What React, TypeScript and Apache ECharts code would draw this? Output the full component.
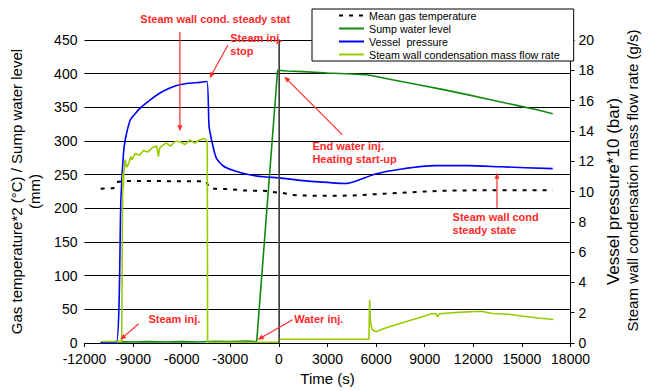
import React, { useEffect, useRef } from 'react';
import * as echarts from 'echarts';

const FONT = '"Liberation Sans", Arial, sans-serif';
const RED = '#ff2a2a';

// Mean gas temperature (*2, °C) — left axis
const gasTemp: [number, number][] = [
  [-11000, 229], [-10600, 229.5], [-10200, 230], [-10000, 239], [-9500, 240.5], [-8000, 240.5],
  [-6000, 240.3], [-4500, 240], [-4300, 231], [-4000, 229], [-3000, 228.5], [-2200, 226.5],
  [-900, 226], [-500, 224.5], [200, 223], [800, 220], [1450, 219], [3000, 218.5], [4500, 219],
  [5550, 220.5], [7600, 223], [9000, 225], [10650, 226.5], [13700, 227], [16900, 227],
];

// Sump water level (mm) — left axis
const sumpLevel: [number, number][] = [
  [-11000, 1], [-10000, 2], [-9000, 1.5], [-8000, 2], [-7000, 1.5], [-6000, 2], [-5000, 1.5],
  [-4000, 2.5], [-3000, 2], [-2000, 3], [-1370, 2], [-80, 405], [500, 404], [1450, 403],
  [3000, 401], [4500, 399.5], [5550, 398], [7000, 391], [8600, 383.5], [10000, 377],
  [11700, 368.5], [13000, 361.5], [14750, 352.5], [16000, 346], [16900, 340.5],
];

// Vessel pressure (*10, bar) — right axis
const vesselPressure: [number, number][] = [
  [-11000, 0], [-10040, 0], [-9750, 9.5], [-9600, 12.4], [-9485, 13.4], [-9180, 14.7],
  [-8900, 15.1], [-8560, 15.5], [-8000, 16.0], [-7340, 16.5], [-6800, 16.8], [-6310, 17.0],
  [-5600, 17.15], [-4880, 17.2], [-4440, 17.26], [-4310, 14.3], [-4070, 13.0], [-3860, 12.2],
  [-3450, 11.7], [-2840, 11.4], [-1820, 11.1], [-790, 10.96], [25, 10.9], [1450, 10.72],
  [3000, 10.6], [4120, 10.53], [4730, 10.68], [5960, 11.16], [7590, 11.49], [9640, 11.71],
  [11680, 11.71], [13720, 11.63], [16900, 11.51],
];

// Steam wall condensation mass flow rate (g/s) — right axis
const steamCond: [number, number][] = [
  [-10900, 0.1], [-9700, 0.1], [-9660, 8], [-9630, 11.2], [-9600, 10.2], [-9560, 11.4],
  [-9490, 12.1], [-9400, 11.6], [-9280, 11.8], [-9150, 12.3], [-9070, 12.1], [-8870, 12.5],
  [-8600, 12.4], [-8360, 12.7], [-8100, 12.6], [-7800, 12.9], [-7540, 13.0], [-7440, 12.3],
  [-7350, 12.9], [-7100, 13.1], [-6930, 13.2], [-6700, 13.0], [-6400, 13.3], [-6110, 13.3],
  [-5800, 13.1], [-5500, 13.4], [-5200, 13.2], [-4900, 13.4], [-4600, 13.5], [-4420, 13.3],
  [-4400, 0.2], [-4380, 0.05], [0, 0.05], [10, 0.25], [5560, 0.25], [5600, 2.85], [5650, 1.4],
  [5750, 0.9], [5990, 0.74], [6500, 0.95], [7010, 1.14], [8030, 1.47], [9060, 1.8],
  [9400, 1.93], [9700, 1.95], [9780, 1.72], [9900, 1.92], [10500, 1.98], [11100, 2.02],
  [12130, 2.08], [12500, 2.1], [13160, 1.95], [14180, 1.9], [15210, 1.75], [16000, 1.65],
  [16950, 1.55],
];

const seriesNames = [
  'Mean gas temperature',
  'Sump water level',
  'Vessel  pressure',
  'Steam wall condensation mass flow rate',
];

// Annotations in data units (time, left-axis value)
const notes: { text: string; at: [number, number]; align: string }[] = [
  { text: 'Steam wall cond. steady stat', at: [-3930, 481], align: 'center' },
  { text: 'Steam inj.\nstop', at: [-3000, 442.6], align: 'left' },
  { text: 'End water inj.\nHeating start-up', at: [2070, 283], align: 'left' },
  { text: 'Steam wall cond\nsteady state', at: [10720, 177], align: 'left' },
  { text: 'Steam inj.', at: [-8055, 35.5], align: 'left' },
  { text: 'Water inj.', at: [945, 35.5], align: 'left' },
];
const arrows: [number, number][][] = [
  [[-6110, 462], [-6110, 314.3]],
  [[-3147, 442.6], [-4270, 393.3]],
  [[3908, 309.4], [331, 395.7]],
  [[13460, 200.9], [13460, 252.7]],
  [[-8669, 28.1], [-9791, 4.9]],
  [[840, 34.5], [-1307, 4.9]],
];

export default function App() {
  const ref = useRef<HTMLDivElement>(null);
  useEffect(() => {
    document.body.style.margin = '0';
    const chart = echarts.init(ref.current!, null, { renderer: 'svg' });
    const axisLabel = { color: '#000', fontSize: 14, fontFamily: FONT };
    const option: any = {
      animation: false,
      backgroundColor: '#fff',
      grid: { left: 84, right: 75, top: 40, bottom: 47, containLabel: false },
      legend: {
        orient: 'vertical',
        left: 312,
        top: 9,
        padding: [1, 14, 1, 26],
        itemGap: 2,
        itemWidth: 25,
        itemHeight: 12,
        borderColor: '#000',
        borderWidth: 1,
        backgroundColor: '#fff',
        itemStyle: { opacity: 0 },
        textStyle: { color: '#000', fontSize: 10.7, fontFamily: FONT },
        data: seriesNames,
      },
      xAxis: {
        type: 'value',
        min: -12000,
        max: 18000,
        interval: 3000,
        name: 'Time (s)',
        nameLocation: 'middle',
        nameGap: 28,
        nameTextStyle: { color: '#000', fontSize: 15, fontFamily: FONT },
        axisLine: { onZero: false, lineStyle: { color: '#000', width: 1 } },
        axisTick: { length: 4, lineStyle: { color: '#000' } },
        axisLabel: { ...axisLabel, margin: 9, formatter: (v: number) => String(v) },
        splitLine: { show: false },
      },
      yAxis: [
        {
          type: 'value',
          min: 0,
          max: 450,
          interval: 50,
          name: 'Gas temperature*2 (°C) / Sump water level\n(mm)',
          nameLocation: 'middle',
          nameRotate: 90,
          nameGap: 33,
          nameTextStyle: { color: '#000', fontSize: 15, fontFamily: FONT, lineHeight: 17.6 },
          axisLine: { show: true, lineStyle: { color: '#000', width: 1 } },
          axisTick: { show: true, length: 4, lineStyle: { color: '#000' } },
          axisLabel: { ...axisLabel, margin: 7 },
          splitLine: { show: true, lineStyle: { color: '#000', width: 1 } },
        },
        {
          type: 'value',
          min: 0,
          max: 20,
          interval: 2,
          position: 'right',
          name: '{a|Vessel pressure*10 (bar)}\n{b|Steam wall condensation mass flow rate (g/s)}',
          nameLocation: 'middle',
          nameRotate: 90,
          nameGap: 31,
          nameTextStyle: {
            color: '#000',
            fontFamily: FONT,
            rich: {
              a: { fontSize: 17, lineHeight: 19, fontFamily: FONT, color: '#000' },
              b: { fontSize: 15, lineHeight: 19, fontFamily: FONT, color: '#000', padding: [0, 0, 0, 22] },
            },
          },
          axisLine: { show: true, lineStyle: { color: '#000', width: 1 } },
          axisTick: { show: true, length: 4, lineStyle: { color: '#000' } },
          axisLabel: { ...axisLabel, margin: 8 },
          splitLine: { show: false },
        },
      ],
      series: [
        {
          name: seriesNames[0],
          type: 'line',
          yAxisIndex: 0,
          data: gasTemp,
          symbol: 'none',
          lineStyle: { color: '#000', width: 2, type: [4, 6] },
          itemStyle: { color: '#000' },
          markLine: {
            silent: true,
            symbol: ['none', 'none'],
            label: { show: false },
            lineStyle: { color: '#555', width: 1.5, type: 'solid' },
            data: [{ xAxis: 0 }],
          },
        },
        {
          name: seriesNames[1],
          type: 'line',
          yAxisIndex: 0,
          data: sumpLevel,
          symbol: 'none',
          lineStyle: { color: '#118811', width: 1.6 },
          itemStyle: { color: '#118811' },
        },
        {
          name: seriesNames[2],
          type: 'line',
          yAxisIndex: 1,
          data: vesselPressure,
          symbol: 'none',
          smooth: 0.2,
          lineStyle: { color: '#0000ff', width: 1.6 },
          itemStyle: { color: '#0000ff' },
        },
        {
          name: seriesNames[3],
          type: 'line',
          yAxisIndex: 1,
          data: steamCond,
          symbol: 'none',
          lineStyle: { color: '#99cc00', width: 1.6 },
          itemStyle: { color: '#99cc00' },
        },
      ],
    };
    chart.setOption(option);

    const px = (p: [number, number]) =>
      chart.convertToPixel({ xAxisIndex: 0, yAxisIndex: 0 } as any, p) as number[];
    const elements: any[] = [];
    notes.forEach((n) => {
      const [x, y] = px(n.at);
      elements.push({
        type: 'text',
        x,
        y,
        z: 100,
        silent: true,
        style: {
          text: n.text,
          fill: RED,
          fontSize: 11,
          fontWeight: 'bold',
          fontFamily: FONT,
          align: n.align,
          verticalAlign: 'middle',
          lineHeight: 13,
        },
      });
    });
    arrows.forEach(([a, b]) => {
      const [x1, y1] = px(a);
      const [x2, y2] = px(b);
      const dx = x2 - x1;
      const dy = y2 - y1;
      const len = Math.sqrt(dx * dx + dy * dy) || 1;
      const ux = dx / len;
      const uy = dy / len;
      const L = 6;
      const W = 2.5;
      elements.push({
        type: 'line',
        z: 100,
        silent: true,
        shape: { x1, y1, x2: x2 - ux * L * 0.6, y2: y2 - uy * L * 0.6 },
        style: { stroke: RED, lineWidth: 1.2 },
      });
      elements.push({
        type: 'polygon',
        z: 100,
        silent: true,
        shape: {
          points: [
            [x2, y2],
            [x2 - ux * L - uy * W, y2 - uy * L + ux * W],
            [x2 - ux * L + uy * W, y2 - uy * L - ux * W],
          ],
        },
        style: { fill: RED },
      });
    });
    chart.setOption({ graphic: elements });

    return () => chart.dispose();
  }, []);
  return <div ref={ref} style={{ width: 648, height: 391 }} />;
}
